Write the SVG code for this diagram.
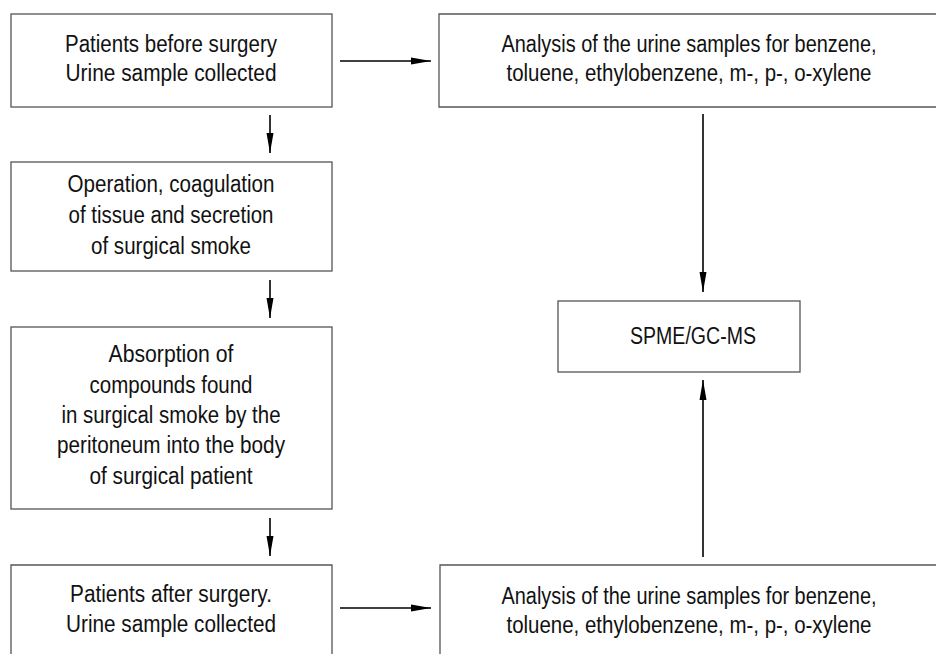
<svg xmlns="http://www.w3.org/2000/svg" width="936" height="654" viewBox="0 0 936 654">
<style>
.box{fill:#fff;stroke:#555;stroke-width:1.3}
.t{font-family:"Liberation Sans",Arial,sans-serif;font-size:23px;fill:#111;text-anchor:middle}
.c{stroke:#000;stroke-width:1.6;fill:none;marker-end:url(#ah)}
</style>
<defs>
<marker id="ah" viewBox="0 0 20 8" refX="20" refY="4" markerWidth="20" markerHeight="8" markerUnits="userSpaceOnUse" orient="auto">
<path d="M0,0.5 L20,4 L0,7.5 z" fill="#000"/>
</marker>
</defs>
<rect width="936" height="654" fill="#fff"/>
<g id="n1">
<rect class="box" x="11" y="14" width="321" height="93"/>
<text class="t" x="171" y="52" textLength="212" lengthAdjust="spacingAndGlyphs">Patients before surgery</text>
<text class="t" x="171" y="81" textLength="211" lengthAdjust="spacingAndGlyphs">Urine sample collected</text>
</g>
<g id="n2">
<rect class="box" x="11" y="162" width="321" height="109"/>
<text class="t" x="171" y="192" textLength="207" lengthAdjust="spacingAndGlyphs">Operation, coagulation</text>
<text class="t" x="171" y="223" textLength="205" lengthAdjust="spacingAndGlyphs">of tissue and secretion</text>
<text class="t" x="171" y="254" textLength="160" lengthAdjust="spacingAndGlyphs">of surgical smoke</text>
</g>
<g id="n3">
<rect class="box" x="11" y="327" width="321" height="182"/>
<text class="t" x="171" y="362" textLength="125" lengthAdjust="spacingAndGlyphs">Absorption of</text>
<text class="t" x="171" y="393" textLength="163" lengthAdjust="spacingAndGlyphs">compounds found</text>
<text class="t" x="171" y="423" textLength="219" lengthAdjust="spacingAndGlyphs">in surgical smoke by the</text>
<text class="t" x="171" y="453" textLength="228" lengthAdjust="spacingAndGlyphs">peritoneum into the body</text>
<text class="t" x="171" y="484" textLength="163" lengthAdjust="spacingAndGlyphs">of surgical patient</text>
</g>
<g id="n4">
<path class="box" d="M11,654 V565 H332 V654"/>
<text class="t" x="171" y="602" textLength="202" lengthAdjust="spacingAndGlyphs">Patients after surgery.</text>
<text class="t" x="171" y="632" textLength="210" lengthAdjust="spacingAndGlyphs">Urine sample collected</text>
</g>
<g id="n5">
<path class="box" d="M936,14 H439 V107 H936"/>
<text class="t" x="689" y="52" textLength="375" lengthAdjust="spacingAndGlyphs">Analysis of the urine samples for benzene,</text>
<text class="t" x="689" y="81" textLength="365" lengthAdjust="spacingAndGlyphs">toluene, ethylobenzene, m-, p-, o-xylene</text>
</g>
<g id="n6">
<rect class="box" x="558" y="301" width="242" height="71"/>
<text class="t" x="693" y="344" textLength="126" lengthAdjust="spacingAndGlyphs">SPME/GC-MS</text>
</g>
<g id="n7">
<path class="box" d="M440,654 V565 H936"/>
<text class="t" x="689" y="604" textLength="375" lengthAdjust="spacingAndGlyphs">Analysis of the urine samples for benzene,</text>
<text class="t" x="689" y="633" textLength="365" lengthAdjust="spacingAndGlyphs">toluene, ethylobenzene, m-, p-, o-xylene</text>
</g>
<g id="connectors">
<line class="c" x1="340" y1="61" x2="431" y2="61"/>
<line class="c" x1="340" y1="608" x2="431" y2="608"/>
<line class="c" x1="270" y1="115" x2="270" y2="153"/>
<line class="c" x1="270" y1="280" x2="270" y2="318"/>
<line class="c" x1="270" y1="518" x2="270" y2="556"/>
<line class="c" x1="703" y1="114" x2="703" y2="292"/>
<line class="c" x1="703" y1="557" x2="703" y2="380"/>
</g>
</svg>
